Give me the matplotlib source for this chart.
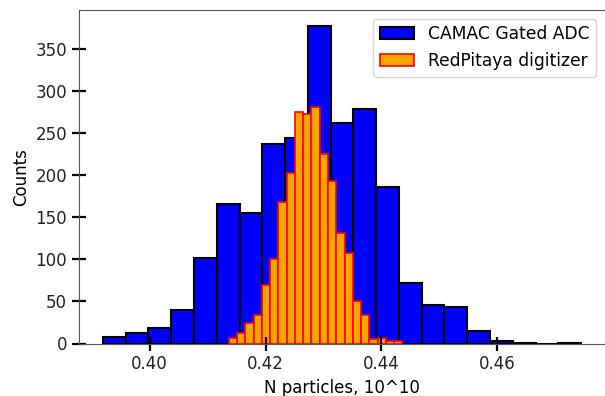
import matplotlib
matplotlib.use("Agg")
import matplotlib.pyplot as plt
import numpy as np

# histogram counts (21 bins each)
camac_range = (0.39194, 0.47445)
camac_counts = [8, 12, 18, 40, 102, 166, 155, 238, 245, 378, 263,
                279, 186, 72, 46, 44, 15, 3, 1, 0, 1]

redpitaya_range = (0.41366, 0.44363)
redpitaya_counts = [6, 13, 24, 34, 70, 101, 168, 203, 275, 273, 281,
                    225, 193, 131, 108, 50, 34, 5, 7, 3, 3]

camac_edges = np.linspace(camac_range[0], camac_range[1], len(camac_counts) + 1)
rp_edges = np.linspace(redpitaya_range[0], redpitaya_range[1], len(redpitaya_counts) + 1)

plt.rcParams['font.size'] = 12

fig = plt.figure(figsize=(6.05, 3.96), dpi=100)
ax = fig.add_axes([79 / 605, 1 - 343.5 / 396, (605 - 79) / 605, (343.5 - 10) / 396])

ax.hist(camac_edges[:-1], bins=camac_edges, weights=camac_counts,
        color='blue', edgecolor='black', linewidth=1.5, label='CAMAC Gated ADC')
ax.hist(rp_edges[:-1], bins=rp_edges, weights=redpitaya_counts,
        color='orange', edgecolor='red', linewidth=1.2, label='RedPitaya digitizer')

ax.set_xticks([0.40, 0.42, 0.44, 0.46])
ax.set_yticks(np.arange(0, 351, 50))
ax.tick_params(direction='inout', length=10, width=1.6, colors='black', labelcolor='#222222')
for side in ['left', 'top', 'bottom']:
    ax.spines[side].set_color('#555555')
ax.spines['right'].set_visible(False)
ax.set_xlabel('N particles, 10^10')
ax.set_ylabel('Counts')
ax.legend(loc='upper right', fontsize=12.3)

fig.savefig('out.png', dpi=100)
